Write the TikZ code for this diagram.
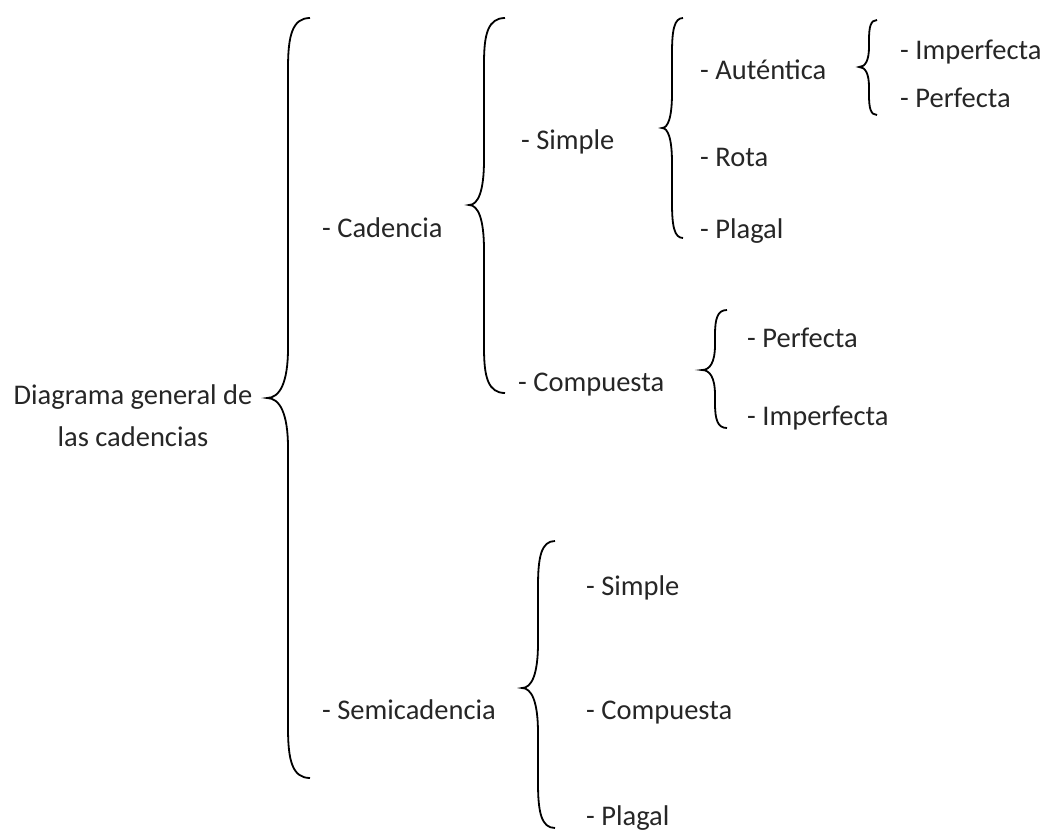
\documentclass[tikz,border=0pt]{standalone}
\usepackage{fontspec}
\setmainfont{Carlito}
\tikzset{
  brc/.style={line width=1.8pt, black},
  lbl/.style={anchor=west, inner sep=0pt, text height=0.72em, text depth=0.22em, text=black!85},
}
% #1 end x, #2 line x, #3 tip x, #4 top y, #5 tip y, #6 bottom y, #7 curve length
\newcommand\cbrace[7]{%
  \draw[brc] (#1,#4) .. controls ({#2+0.2*(#1-#2)},#4) and (#2,{#4+0.35*#7}) .. (#2,{#4+#7})
    -- (#2,{#5-#7}) .. controls (#2,{#5-0.3*#7}) and ({#2-0.4*(#2-#3)},#5) .. (#3,#5)
    .. controls ({#2-0.4*(#2-#3)},#5) and (#2,{#5+0.3*#7}) .. (#2,{#5+#7})
    -- (#2,{#6-#7}) .. controls (#2,{#6-0.35*#7}) and ({#2+0.2*(#1-#2)},#6) .. (#1,#6);}
\begin{document}
\begin{tikzpicture}[x=1pt,y=-1pt]
\useasboundingbox (0,0) rectangle (1046,832);
\fontsize{28.5}{34}\selectfont
% root
\node[align=center, inner sep=0pt, text=black!85] (root) at (133,416) {Diagrama general de\\[8pt]las cadencias};
\cbrace{310}{288}{267}{18}{398}{778}{50}
\node[lbl] (cad) at (322,230) {- Cadencia};
\node[lbl] (semi) at (322,712) {- Semicadencia};
% cadencia
\cbrace{505}{484}{469}{18}{205}{393}{45}
\node[lbl] (simple) at (521,142) {- Simple};
\node[lbl] (comp) at (518,384) {- Compuesta};
% simple
\cbrace{683}{672}{662}{18}{128}{238}{35}
\node[lbl] (aut) at (700,72) {- Auténtica};
\node[lbl] (rota) at (700,159) {- Rota};
\node[lbl] (plag) at (700,231) {- Plagal};
% autentica
\cbrace{877}{869}{859}{20}{67}{115}{20}
\node[lbl] (aimp) at (900,52) {- Imperfecta};
\node[lbl] (aper) at (900,100) {- Perfecta};
% compuesta
\cbrace{727}{715}{702}{310}{370}{428}{25}
\node[lbl] (cper) at (747,340) {- Perfecta};
\node[lbl] (cimp) at (747,418) {- Imperfecta};
% semicadencia
\cbrace{555}{538}{522}{541}{688}{828}{45}
\node[lbl] (ssim) at (586,588) {- Simple};
\node[lbl] (scomp) at (586,712) {- Compuesta};
\node[lbl] (splag) at (586,818) {- Plagal};
\end{tikzpicture}
\end{document}
